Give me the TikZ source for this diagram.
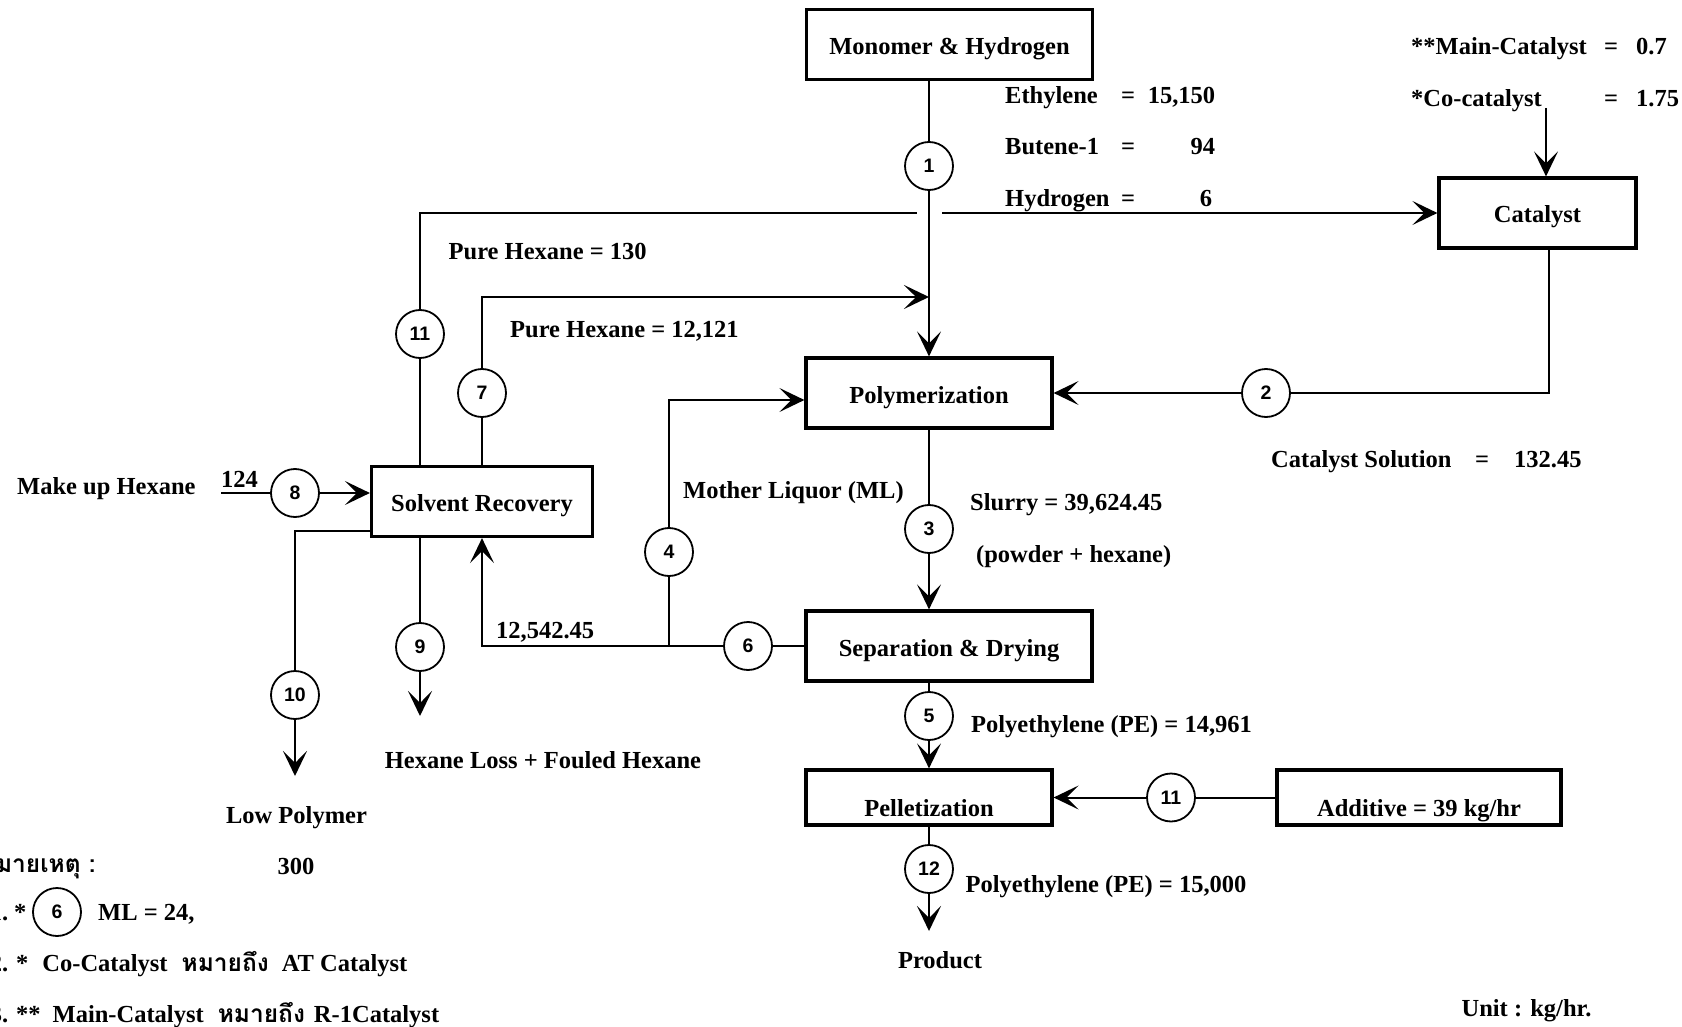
\documentclass[tikz,border=0pt]{standalone}
\usepackage{fontspec}
\setmainfont{Liberation Serif}
\newfontfamily\numfont{Liberation Sans}
\newfontfamily\thaifont[Script=Thai]{Loma}
\usetikzlibrary{arrows.meta}

\tikzset{
  unit/.style={draw, line width=3.2pt, inner sep=0pt, text height=20pt, text depth=0pt, font=\bfseries\fontsize{24.5}{29}\selectfont},
  low/.style={text height=37pt, text depth=0pt},
  strm/.style={circle, draw, line width=1.8pt, minimum size=48pt, inner sep=0pt, font=\numfont\bfseries\fontsize{19.5}{22}\selectfont},
  lbl/.style={inner sep=0pt, font=\bfseries\fontsize{24.5}{29}\selectfont},
  flow/.style={line width=2pt},
}

\begin{document}
\begin{tikzpicture}[x=1pt, y=-1pt, >={Stealth[length=25pt,width=24pt,inset=12pt]}]

\useasboundingbox (0,0) rectangle (1682,1027);
\clip (0,0) rectangle (1682,1027);

\node[unit, minimum width=286pt, minimum height=70pt] (mono) at (949.5,44.5) {Monomer \& Hydrogen};
\node[unit, minimum width=197pt, minimum height=70pt] (cat) at (1537.5,213) {Catalyst};
\node[unit, minimum width=246pt, minimum height=70pt] (poly) at (929,393) {Polymerization};
\node[unit, minimum width=221pt, minimum height=70pt] (solv) at (482,501.5) {Solvent Recovery};
\node[unit, minimum width=286pt, minimum height=70pt] (sep) at (949,646) {Separation \& Drying};
\node[unit, low, minimum width=246pt, minimum height=55pt] (pel) at (929,797.5) {Pelletization};
\node[unit, low, minimum width=284pt, minimum height=55pt] (add) at (1419,797.5) {Additive = 39 kg/hr};

\node[strm] (s1) at (929,166) {1};
\node[strm] (s2) at (1266,393) {2};
\node[strm] (s3) at (929,529) {3};
\node[strm] (s4) at (669,552) {4};
\node[strm] (s5) at (929,716) {5};
\node[strm] (s6) at (748,646) {6};
\node[strm] (s7) at (482,393) {7};
\node[strm] (s8) at (295,493) {8};
\node[strm] (s9) at (420,647) {9};
\node[strm] (s10) at (295,695) {10};
\node[strm] (s11) at (420,334) {11};
\node[strm] (s11b) at (1171,797.5) {11};
\node[strm] (s12) at (929,869) {12};

% feed and catalyst figures
\node[lbl, anchor=base west] (eth) at (1005,104) {\makebox[116pt][l]{Ethylene}\makebox[14pt]{=}\makebox[80pt][r]{15,150}};
\node[lbl, anchor=base west] (but) at (1005,155) {\makebox[116pt][l]{Butene-1}\makebox[14pt]{=}\makebox[80pt][r]{94}};
\node[lbl, anchor=base west] (hyd) at (1005,207) {\makebox[116pt][l]{Hydrogen}\makebox[14pt]{=}\makebox[77pt][r]{6}};
\node[lbl, anchor=base west] (mcat) at (1411,55) {\makebox[193pt][l]{**Main-Catalyst}\makebox[14pt]{=}\hspace{18pt}0.7};
\node[lbl, anchor=base west] (ccat) at (1411,107) {\makebox[193pt][l]{*Co-catalyst}\makebox[14pt]{=}\hspace{18pt}1.75};
\node[lbl, anchor=base west] (csol) at (1271,467) {\makebox[204pt][l]{Catalyst Solution}\makebox[14pt]{=}\hspace{25pt}132.45};

\node[lbl, anchor=base west] (ph1) at (448.5,259) {Pure Hexane = 130};
\node[lbl, anchor=base west] (ph2) at (510,337) {Pure Hexane = 12,121};
\node[lbl, anchor=base west] (mkh) at (17,494) {Make up Hexane};
\node[lbl, anchor=base west] (q124) at (221,487) {124};
\node[lbl, anchor=base west] (ml) at (683,498) {Mother Liquor (ML)};
\node[lbl, anchor=base west] (slur) at (970,510) {Slurry = 39,624.45};
\node[lbl, anchor=base west] (pwd) at (976,562) {(powder + hexane)};
\node[lbl, anchor=base west] (rec) at (496,638) {12,542.45};
\node[lbl, anchor=base west] (pe1) at (971,732) {Polyethylene (PE) = 14,961};
\node[lbl, anchor=base west] (pe2) at (965.5,892) {Polyethylene (PE) = 15,000};
\node[lbl, anchor=base] (prod) at (940,968) {Product};
\node[lbl, anchor=base] (unit) at (1526.5,1016) {Unit : kg/hr.};
\node[lbl, anchor=base] (loss) at (543,768) {Hexane Loss + Fouled Hexane};
\node[lbl, anchor=base] (lowp) at (296.5,823) {Low Polymer};
\node[lbl, anchor=base] (w300) at (296,874) {300};

% notes
\node[lbl, anchor=base east] (note) at (96,872) {\thaifont หมายเหตุ :};
\node[lbl, anchor=base east] (n1) at (8.5,920) {1.};
\node[lbl, anchor=base west] (n1a) at (14,920) {*};
\node[strm] (s6n) at (57,912) {6};
\node[lbl, anchor=base west] (n1b) at (98,920) {ML = 24,};
\node[lbl, anchor=base east] (n2) at (8.5,971) {2.};
\node[lbl, anchor=base west] (n2a) at (16,971) {*\hspace{14pt}Co-Catalyst\hspace{14pt}{\thaifont หมายถึง}\hspace{13pt}AT Catalyst};
\node[lbl, anchor=base east] (n3) at (8.5,1022) {3.};
\node[lbl, anchor=base west] (n3a) at (16,1022) {**\hspace{12pt}Main-Catalyst\hspace{14pt}{\thaifont หมายถึง}\hspace{9pt}R-1Catalyst};

% streams
\coordinate (gapL) at (917,213);
\coordinate (gapR) at (942,213);
\coordinate (j7) at (929,297);
\coordinate (k2) at (1549,393);
\coordinate (cc) at (1546,108);
\coordinate (j4) at (669,646);
\coordinate (k4) at (669,400);
\coordinate (t12) at (929,931);
\coordinate (mk) at (221,493);
\coordinate (k10) at (295,531);
\coordinate (t10) at (295,776);
\coordinate (t9) at (420,716);

\draw[flow] (mono.south -| s1) -- (s1);
\draw[flow,->] (s1) -- (poly);
\draw[flow] (solv.north -| s11) -- (s11);
\draw[flow] (s11) |- (gapL);
\draw[flow,->] (gapR) -- (cat);
\draw[flow] (solv.north -| s7) -- (s7);
\draw[flow,->] (s7) |- (j7);
\draw[flow] (cat.south -| k2) -- (k2) -- (s2);
\draw[flow,->] (s2) -- (poly);
\draw[flow,->] (cc) -- (cat.north -| cc);
\draw[flow] (poly) -- (s3);
\draw[flow,->] (s3) -- (sep.north -| s3);
\draw[flow] (sep.west) -- (s6);
\draw[flow,->] (s6) -- (j4) -| (solv);
\draw[flow] (j4) -- (s4);
\draw[flow,->] (s4) -- (k4) -- (k4 -| poly.west);
\draw[flow] (sep.south -| s5) -- (s5);
\draw[flow,->] (s5) -- (pel);
\draw[flow] (add) -- (s11b);
\draw[flow,->] (s11b) -- (pel);
\draw[flow] (pel) -- (s12);
\draw[flow,->] (s12) -- (t12);
\draw[flow] (mk) -- (s8);
\draw[flow,->] (s8) -- (solv.west |- s8);
\draw[flow] (solv.west |- k10) -- (k10) -- (s10);
\draw[flow,->] (s10) -- (t10);
\draw[flow] (solv.south -| s9) -- (s9);
\draw[flow,->] (s9) -- (t9);

\end{tikzpicture}
\end{document}
